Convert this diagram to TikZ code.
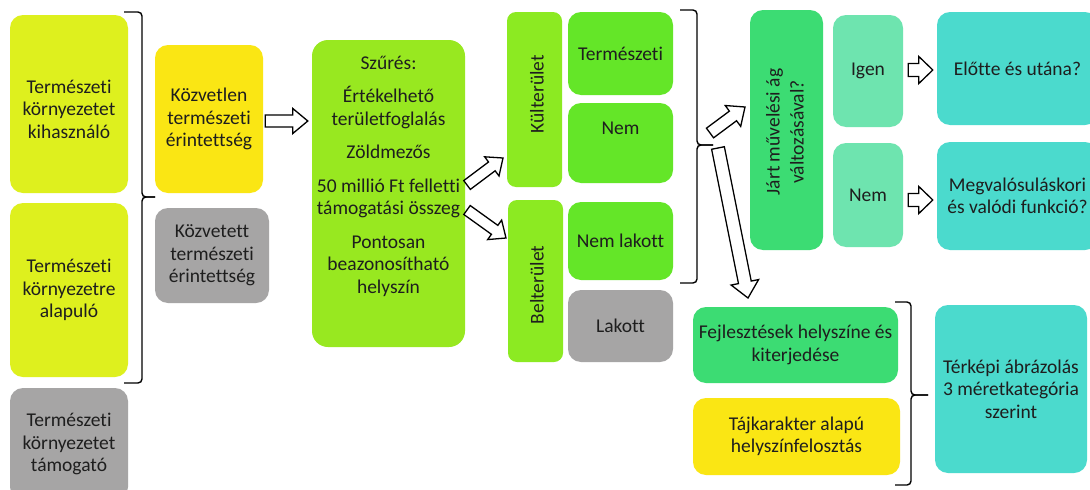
\documentclass[tikz,border=0pt]{standalone}
\usepackage{fontspec}
\setmainfont{Carlito}[Ligatures=NoCommon]
\usetikzlibrary{calc}
\definecolor{txtc}{RGB}{30,30,30}
\definecolor{ylime}{RGB}{222,240,30}
\definecolor{yel}{RGB}{250,230,20}
\definecolor{grayb}{RGB}{166,165,165}
\definecolor{filt}{RGB}{152,232,32}
\definecolor{lgreen}{RGB}{140,234,34}
\definecolor{mgreen}{RGB}{100,230,40}
\definecolor{dgreen}{RGB}{60,220,115}
\definecolor{mint}{RGB}{110,228,175}
\definecolor{turq}{RGB}{75,218,205}
\tikzset{
  box/.style={rounded corners=13pt, inner sep=2pt, align=center, text=txtc,
    font=\fontsize{19.5}{22.5}\selectfont},
  txt/.style={inner sep=0pt, align=center, text=txtc, font=\fontsize{19.5}{22.5}\selectfont},
  brace/.style={draw=black, line width=1.4pt, rounded corners=4pt},
  barrow/.style={draw=black, fill=white, line width=1.3pt, line join=miter},
}
\newcommand\blockarrow[5]{%
  \coordinate (baP) at ($(#2)!#5!(#1)$);
  \draw[barrow] ($(#1)!#3!90:(#2)$) -- ($(baP)!#3!90:(#2)$) -- ($(baP)!#4!90:(#2)$)
    -- (#2) -- ($(baP)!#4!-90:(#2)$) -- ($(baP)!#3!-90:(#2)$) -- ($(#1)!#3!-90:(#2)$) -- cycle;}
\begin{document}
\begin{tikzpicture}[x=1pt,y=-1pt]
\useasboundingbox (0,0) rectangle (1090,490);
\fill[white] (0,0) rectangle (1090,490);
% left column
\node[box, fill=ylime, minimum width=118, minimum height=178] (a) at (69,104) {};
\node[txt] (atext) at (69,109) {Természeti\\környezetet\\kihasználó};
\node[box, fill=ylime, minimum width=118, minimum height=174] (b) at (69,290) {Természeti\\környezetre\\alapuló};
\node[box, fill=grayb, minimum width=118, minimum height=112] (c) at (69,444) {Természeti\\környezetet\\támogató};
\node[box, fill=yel, minimum width=108, minimum height=148] (d) at (209,119) {Közvetlen\\természeti\\érintettség};
\node[box, fill=grayb, minimum width=114, minimum height=95] (e) at (212,255.5) {Közvetett\\természeti\\érintettség};
% filter
\node[box, rounded corners=16pt, fill=filt, minimum width=153, minimum height=307] (filter) at (388.5,193.5) {};
\node[txt, anchor=center] (filtertext) at (388.5,176) {Szűrés:\\[11pt]Értékelhető\\területfoglalás\\[11pt]Zöldmezős\\[11pt]50 millió Ft felletti\\támogatási összeg\\[11pt]Pontosan\\beazonosítható\\helyszín};
% kul / bel
\node[box, rounded corners=9pt, fill=lgreen, minimum width=55, minimum height=175] (kul) at (534.5,99.5) {};
\node[txt, rotate=90] (kultext) at (537,94) {Külterület};
\node[box, rounded corners=9pt, fill=lgreen, minimum width=55, minimum height=162] (bel) at (535.5,281) {};
\node[txt, rotate=90] (beltext) at (537,285) {Belterület};
\node[box, fill=mgreen, minimum width=105, minimum height=83] (term) at (620.5,53.5) {Természeti};
\node[box, fill=mgreen, minimum width=105, minimum height=80] (nem1) at (620.5,143) {};
\node[txt] (nem1text) at (620.5,128) {Nem};
\node[box, fill=mgreen, minimum width=105, minimum height=78] (nemlak) at (620.5,241) {Nem lakott};
\node[box, fill=grayb, minimum width=105, minimum height=72] (lakott) at (620.5,326) {Lakott};
% right part
\node[box, fill=dgreen, minimum width=73, minimum height=240] (jart) at (786.5,130) {};
\node[txt, rotate=90, font=\fontsize{19.5}{24}\selectfont] (jarttext) at (785,132) {Járt művelési ág\\változásával?};
\node[box, fill=mint, minimum width=70, minimum height=112] (igen) at (868,71) {Igen};
\node[box, fill=mint, minimum width=70, minimum height=104] (nem2) at (868,195) {Nem};
\node[box, fill=turq, minimum width=161, minimum height=113] (elotte) at (1017.5,68.5) {Előtte és utána?};
\node[box, fill=turq, minimum width=161, minimum height=108] (megval) at (1017.5,196) {Megvalósuláskori\\és valódi funkció?};
\node[box, fill=dgreen, minimum width=205, minimum height=76] (fejl) at (795.5,345) {Fejlesztések helyszíne és\\kiterjedése};
\node[box, fill=yel, minimum width=207, minimum height=77] (taj) at (796.5,436.5) {Tájkarakter alapú\\helyszínfelosztás};
\node[box, fill=turq, minimum width=152, minimum height=168] (terkep) at (1011,389) {Térképi ábrázolás\\3 méretkategória\\szerint};
% braces
\draw[brace] (124,12) -- (142,12) -- (142,197) -- (155,197);
\draw[brace] (155,197) -- (142,197) -- (142,383) -- (124,383);
\draw[brace] (680,10) -- (697,10) -- (697,145) -- (713,145);
\draw[brace] (713,145) -- (697,145) -- (697,283) -- (680,283);
\draw[brace] (895,302) -- (911,302) -- (911,395) -- (928,395);
\draw[brace] (928,395) -- (911,395) -- (911,485) -- (895,485);
% arrow end points
\coordinate (a1s) at ([xshift=2]d.east|-0,121);
\coordinate (a1t) at ([xshift=-4]filter.west|-0,121);
\coordinate (a2s) at (467,185);
\coordinate (a2t) at (503,158);
\coordinate (a3s) at (467,210);
\coordinate (a3t) at (506,238);
\coordinate (a4s) at (710,133);
\coordinate (a4t) at (745,107);
\coordinate (a5s) at (718,148);
\coordinate (a5t) at (748,298);
\coordinate (a6s) at ([xshift=5]igen.east|-0,70);
\coordinate (a6t) at ([xshift=-4]elotte.west|-0,70);
\coordinate (a7s) at ([xshift=5]nem2.east|-0,200);
\coordinate (a7t) at ([xshift=-4]megval.west|-0,200);
\blockarrow{a1s}{a1t}{6pt}{12.5pt}{15pt}
\blockarrow{a2s}{a2t}{5.5pt}{12pt}{14pt}
\blockarrow{a3s}{a3t}{5.5pt}{12pt}{14pt}
\blockarrow{a4s}{a4t}{6pt}{13pt}{15pt}
\blockarrow{a5s}{a5t}{6.5pt}{14pt}{16pt}
\blockarrow{a6s}{a6t}{6.5pt}{13.5pt}{14pt}
\blockarrow{a7s}{a7t}{6.5pt}{13.5pt}{14pt}
\end{tikzpicture}
\end{document}
